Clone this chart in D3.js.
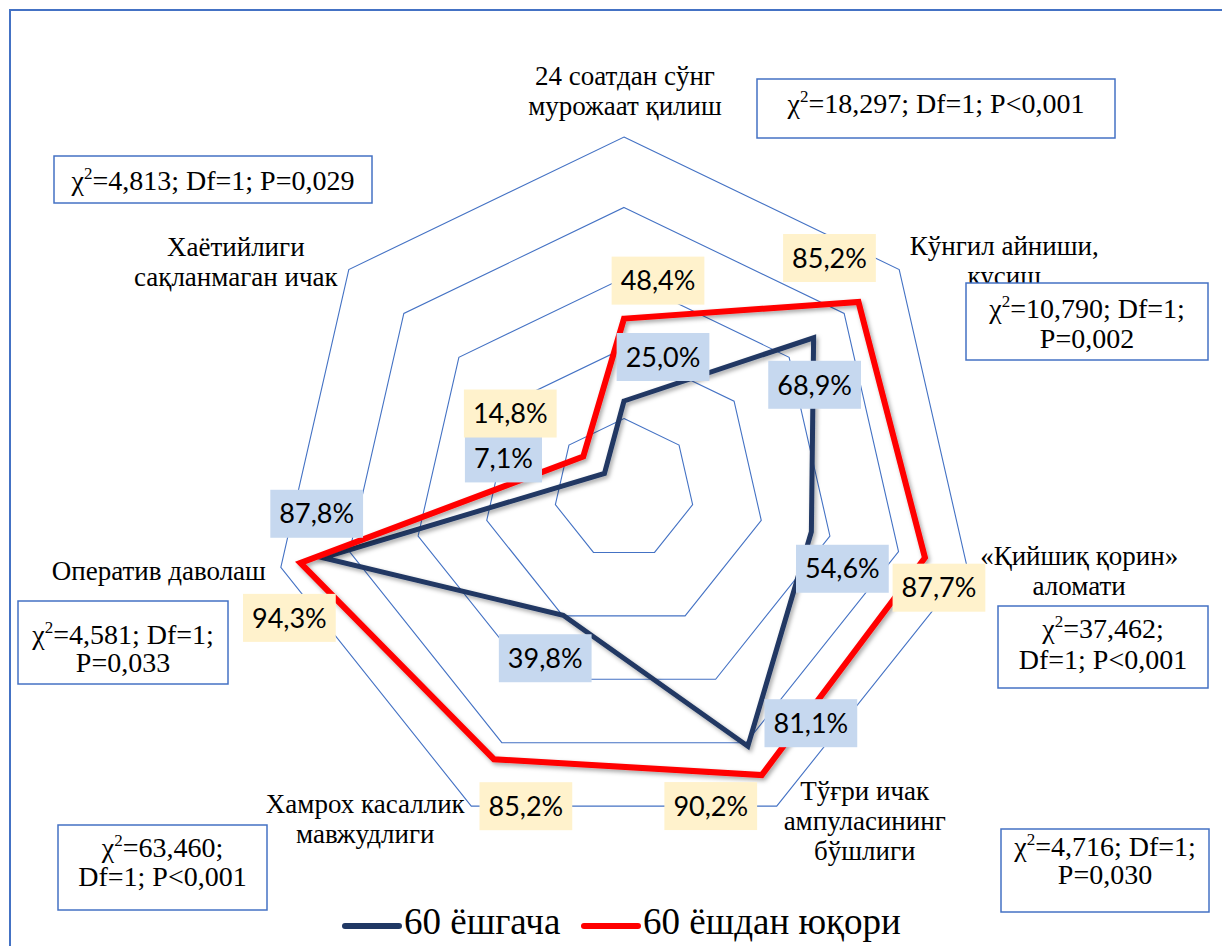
<!DOCTYPE html>
<html>
<head>
<meta charset="utf-8">
<script src="https://cdn.jsdelivr.net/npm/d3@7"></script>
<style>
  body { margin: 0; background: #fff; }
  svg { display: block; }
</style>
</head>
<body>
<div class="radarChart"></div>
<script>
// --- data ---
const categories = [
    '24 соатдан сўнг\nмурожаат қилиш',
    'Кўнгил айниши,\nкусиш',
    '«Қийшиқ қорин»\nаломати',
    'Тўғри ичак\nампуласининг\nбўшлиги',
    'Хамрох касаллик\nмавжудлиги',
    'Оператив даволаш',
    'Хаётийлиги\nсақланмаган ичак'
];
const under60 = [25.0, 68.9, 54.6, 81.1, 39.8, 87.8, 7.1];
const over60 = [48.4, 85.2, 87.7, 90.2, 85.2, 94.3, 14.8];
const seriesNames = ['60 ёшгача', '60 ёшдан юқори'];
const gridTicks = [20, 40, 60, 80, 100];
const chiStats = [
    'χ2=18,297; Df=1; P<0,001',
    'χ2=10,790; Df=1;\nP=0,002',
    'χ2=37,462;\nDf=1; P<0,001',
    'χ2=4,716; Df=1;\nP=0,030',
    'χ2=63,460;\nDf=1; P<0,001',
    'χ2=4,581; Df=1;\nP=0,033',
    'χ2=4,813; Df=1; P=0,029'
];

// --- layout (not data) ---
const width = 1222, height = 946;
const cx = 624, cy = 489, R = 352;
const serif = 'Liberation Serif, Times New Roman, serif';
const colors = ['#203864', '#ff0000'];
const labelFill = ['#c6d8ef', '#fff2cc'];
// data label box centre offsets from the point
const labelOffsets = [
    [[39, -44], [1, 47], [31, 37], [63, -23], [-18, 43], [-6, -44], [-101, -15]],
    [[34, -38], [-29, -44], [14, 30], [-51, 31], [32, 47], [-11, 55], [-73, -43]]
];
// category label offsets from the outer vertex (centre x, first baseline)
const catOffsets = [[1, -52], [105, -15], [112, -2], [88, -6], [-106, 7], [-122, 13], [-113, -14]];
// chi boxes: x, y, w, h, first baseline, line step
const chiBoxes = [
    [757, 79, 358, 59, 34, 30],
    [966, 283, 242, 77, 35, 30],
    [998, 606, 210, 82, 32, 31],
    [1001, 829, 208, 83, 27, 28],
    [58, 825, 209, 85, 32, 29],
    [18, 601, 210, 83, 43, 28],
    [54, 156, 318, 47, 34, 30]
];

const n = categories.length;
const rScale = d3.scaleLinear().domain([0, 100]).range([0, R]);
const aScale = d3.scaleLinear().domain([0, n]).range([0, 2 * Math.PI]);
const px = (i, v) => cx + rScale(v) * Math.sin(aScale(i));
const py = (i, v) => cy - rScale(v) * Math.cos(aScale(i));

const svg = d3.select('.radarChart')
    .append('svg')
    .attr('width', width)
    .attr('height', height);

const defs = svg.append('defs');
defs.append('filter')
    .attr('id', 'shadow')
    .attr('x', '-10%').attr('y', '-10%').attr('width', '120%').attr('height', '120%')
    .append('feDropShadow')
    .attr('dx', 2).attr('dy', 2.5).attr('stdDeviation', 2)
    .attr('flood-color', '#000').attr('flood-opacity', 0.35);

// frame
svg.append('rect')
    .attr('x', 10).attr('y', 10)
    .attr('width', width + 20).attr('height', height + 20)
    .attr('fill', 'none')
    .attr('stroke', '#4472c4')
    .attr('stroke-width', 2);

const radial = d3.lineRadial()
    .angle((d, i) => aScale(i))
    .radius(d => rScale(d))
    .curve(d3.curveLinearClosed);

const g = svg.append('g').attr('transform', `translate(${cx},${cy})`);

// grid rings
g.selectAll('.ring')
    .data(gridTicks)
    .enter()
    .append('path')
    .attr('class', 'ring')
    .attr('d', t => radial(categories.map(() => t)))
    .attr('fill', 'none')
    .attr('stroke', '#4472c4')
    .attr('stroke-width', 1.1);

// series
[under60, over60].forEach((s, k) => {
    g.append('path')
        .datum(s)
        .attr('d', radial)
        .attr('fill', 'none')
        .attr('stroke', colors[k])
        .attr('stroke-width', k === 0 ? 5 : 6)
        .attr('stroke-linejoin', 'miter')
        .attr('filter', 'url(#shadow)');
});

// category labels
categories.forEach((c, i) => {
    const t = svg.append('text')
        .attr('text-anchor', 'middle')
        .attr('font-family', serif)
        .attr('font-size', 27)
        .attr('fill', '#000');
    c.split('\n').forEach((line, j) => {
        t.append('tspan')
            .attr('x', px(i, 100) + catOffsets[i][0])
            .attr('y', py(i, 100) + catOffsets[i][1] + j * 30)
            .text(line);
    });
});

// data labels
[under60, over60].forEach((s, k) => {
    s.forEach((v, i) => {
        const lx = px(i, v) + labelOffsets[k][i][0];
        const ly = py(i, v) + labelOffsets[k][i][1];
        const lg = svg.append('g');
        const bg = lg.append('rect').attr('fill', labelFill[k]);
        const t = lg.append('text')
            .attr('x', lx)
            .attr('y', ly)
            .attr('dy', '0.36em')
            .attr('text-anchor', 'middle')
            .attr('font-family', 'Lato, Open Sans, sans-serif')
            .attr('font-size', 27)
            .attr('fill', '#000')
            .text(d3.format('.1f')(v).replace('.', ',') + '%');
        const w = t.node().getComputedTextLength() + 18;
        bg.attr('x', lx - w / 2).attr('y', ly - 24).attr('width', w).attr('height', 48);
    });
});

// chi-square boxes
chiStats.forEach((s, i) => {
    const [bx, by, bw, bh, base, step] = chiBoxes[i];
    svg.append('rect')
        .attr('x', bx).attr('y', by)
        .attr('width', bw).attr('height', bh)
        .attr('fill', '#fff')
        .attr('stroke', '#4472c4')
        .attr('stroke-width', 1.5);
    const t = svg.append('text')
        .attr('text-anchor', 'middle')
        .attr('font-family', serif)
        .attr('font-size', 28)
        .attr('fill', '#000');
    s.split('\n').forEach((line, j) => {
        const ts = t.append('tspan')
            .attr('x', bx + bw / 2)
            .attr('y', by + base + j * step);
        if (line.startsWith('χ2')) {
            ts.append('tspan').text('χ');
            ts.append('tspan').attr('dy', -11).attr('font-size', 17).text('2');
            ts.append('tspan').attr('dy', 11).text(line.slice(2));
        } else {
            ts.text(line);
        }
    });
});

// legend
const legendX = [345, 584];
const legendY = 926;
seriesNames.forEach((name, k) => {
    svg.append('line')
        .attr('x1', legendX[k]).attr('x2', legendX[k] + 54)
        .attr('y1', legendY).attr('y2', legendY)
        .attr('stroke', colors[k])
        .attr('stroke-width', 6)
        .attr('stroke-linecap', 'round');
    svg.append('text')
        .attr('x', legendX[k] + 59)
        .attr('y', 934)
        .attr('font-family', serif)
        .attr('font-size', 37)
        .attr('fill', '#000')
        .text(name);
});
</script>
</body>
</html>
